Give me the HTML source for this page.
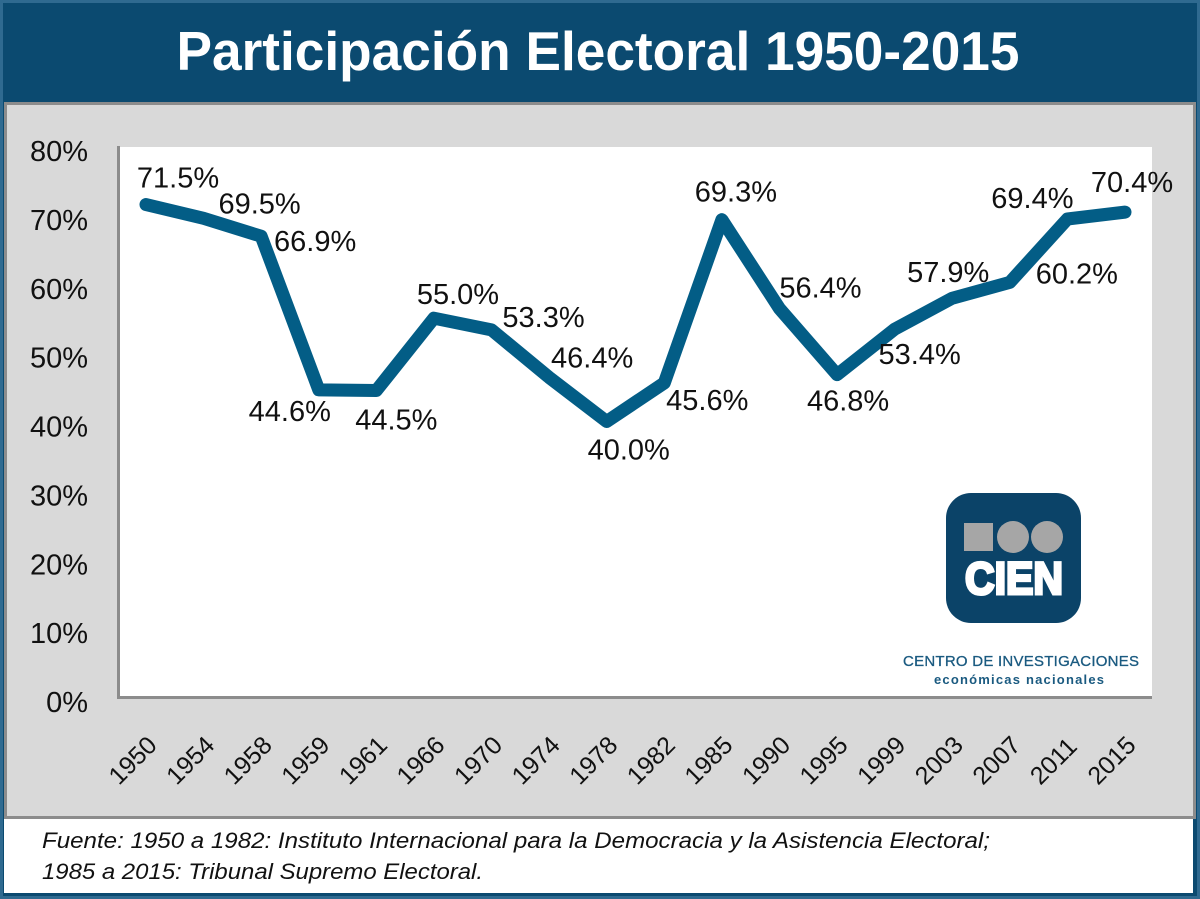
<!DOCTYPE html>
<html lang="es">
<head>
<meta charset="utf-8">
<title>Participación Electoral 1950-2015</title>
<style>
html,body{margin:0;padding:0;background:#0b4a70;width:1200px;height:899px;overflow:hidden}
svg{display:block}
text{font-family:"Liberation Sans",sans-serif}
</style>
</head>
<body>
<svg id="chart" xmlns="http://www.w3.org/2000/svg" width="1200" height="899" viewBox="0 0 1200 899">
  <rect x="0" y="0" width="1200" height="899" fill="#0b4a70"/>
  <rect x="1.5" y="1.5" width="1197" height="896" fill="none" stroke="#2f6a90" stroke-width="3"/>
  <text x="598" y="70" text-anchor="middle" font-size="55" font-weight="bold" fill="#ffffff" textLength="843" lengthAdjust="spacingAndGlyphs">Participación Electoral 1950-2015</text>
  <rect x="4" y="815" width="1189" height="78" fill="#ffffff"/>
  <rect x="5.5" y="103.5" width="1189" height="714" fill="#d9d9d9" stroke="#8c8c8c" stroke-width="3"/>
  <rect x="119" y="147" width="1033" height="550" fill="#ffffff"/>
  <path d="M118.5 146V697.5H1152" fill="none" stroke="#8c8c8c" stroke-width="3"/>
  <g id="y-ticks"></g>
  <g id="x-ticks"></g>
  <polyline id="series" fill="none" stroke="#035d86" stroke-width="13" stroke-linecap="round" stroke-linejoin="round"/>
  <g id="value-labels"></g>
  <g>
    <rect x="946" y="493" width="135" height="130" rx="25" fill="#0b4368"/>
    <rect x="964" y="523" width="29" height="28" fill="#a6a6a6"/>
    <circle cx="1013" cy="537" r="16" fill="#a6a6a6"/>
    <circle cx="1047" cy="537" r="16" fill="#a6a6a6"/>
    <text x="965" y="594" font-size="45" font-weight="bold" fill="#ffffff" stroke="#ffffff" stroke-width="3" textLength="98" lengthAdjust="spacingAndGlyphs">CIEN</text>
    <text x="903" y="666" font-size="15" fill="#1a5a80" stroke="#1a5a80" stroke-width="0.3" textLength="236" lengthAdjust="spacing">CENTRO DE INVESTIGACIONES</text>
    <text x="934" y="684" font-size="13" font-weight="bold" fill="#1a5a80" textLength="170" lengthAdjust="spacing">económicas nacionales</text>
  </g>
  <text x="42" y="848" font-size="22" font-style="italic" fill="#111111" textLength="948" lengthAdjust="spacingAndGlyphs">Fuente: 1950 a 1982: Instituto Internacional para la Democracia y la Asistencia Electoral;</text>
  <text x="42" y="879" font-size="22" font-style="italic" fill="#111111" textLength="441" lengthAdjust="spacingAndGlyphs">1985 a 2015: Tribunal Supremo Electoral.</text>
</svg>
<script>
const years = ['1950','1954','1958','1959','1961','1966','1970','1974','1978','1982','1985','1990','1995','1999','2003','2007','2011','2015'];
const turnout = [71.5,69.5,66.9,44.6,44.5,55.0,53.3,46.4,40.0,45.6,69.3,56.4,46.8,53.4,57.9,60.2,69.4,70.4];
const valueLabels = ['71.5%','69.5%','66.9%','44.6%','44.5%','55.0%','53.3%','46.4%','40.0%','45.6%','69.3%','56.4%','46.8%','53.4%','57.9%','60.2%','69.4%','70.4%'];
const yTicks = [0,10,20,30,40,50,60,70,80];

const NS = 'http://www.w3.org/2000/svg';
function xScale(i){ return 146 + i * (979 / (years.length - 1)); }
function yScale(v){ return 697 - v * (551 / 80); }

function drawChart(){
  const yGroup = document.getElementById('y-ticks');
  yTicks.forEach(function(t){
    const el = document.createElementNS(NS,'text');
    
    
    el.setAttribute('x', 88);
    el.setAttribute('y', yScale(t) + 15);
    el.setAttribute('text-anchor', 'end');
    el.setAttribute('font-size', '29');
    el.setAttribute('fill', '#111111');
    el.textContent = t + '%';
    yGroup.appendChild(el);
  });

  const xGroup = document.getElementById('x-ticks');
  years.forEach(function(y, i){
    const el = document.createElementNS(NS,'text');
    const px = xScale(i) - 27;
    const py = 786;
    
    
    el.setAttribute('x', px);
    el.setAttribute('y', py);
    el.setAttribute('font-size', '25');
    el.setAttribute('fill', '#111111');
    el.setAttribute('transform', 'rotate(-45 ' + px + ' ' + py + ')');
    el.textContent = y;
    xGroup.appendChild(el);
  });

  document.getElementById('series').setAttribute('points',
    turnout.map(function(v, i){ return xScale(i) + ',' + yScale(v); }).join(' '));

  // label placement relative to each data point
  const dx = [32,56,54,-29,20,24,52,43,22,43,14,41,11,25,-4,67,-35,7];
  const dy = [-27,-15,5,21,29,-24,-13,-20,28,17,-28,-21,26,25,-26,-9,-21,-30];
  const lGroup = document.getElementById('value-labels');
  valueLabels.forEach(function(label, i){
    const el = document.createElementNS(NS,'text');
    
    
    el.setAttribute('x', xScale(i) + dx[i]);
    el.setAttribute('y', yScale(turnout[i]) + dy[i] + 10);
    el.setAttribute('text-anchor', 'middle');
    el.setAttribute('font-size', '29');
    el.setAttribute('fill', '#111111');
    el.textContent = label;
    lGroup.appendChild(el);
  });
}
drawChart();
</script>
</body>
</html>
